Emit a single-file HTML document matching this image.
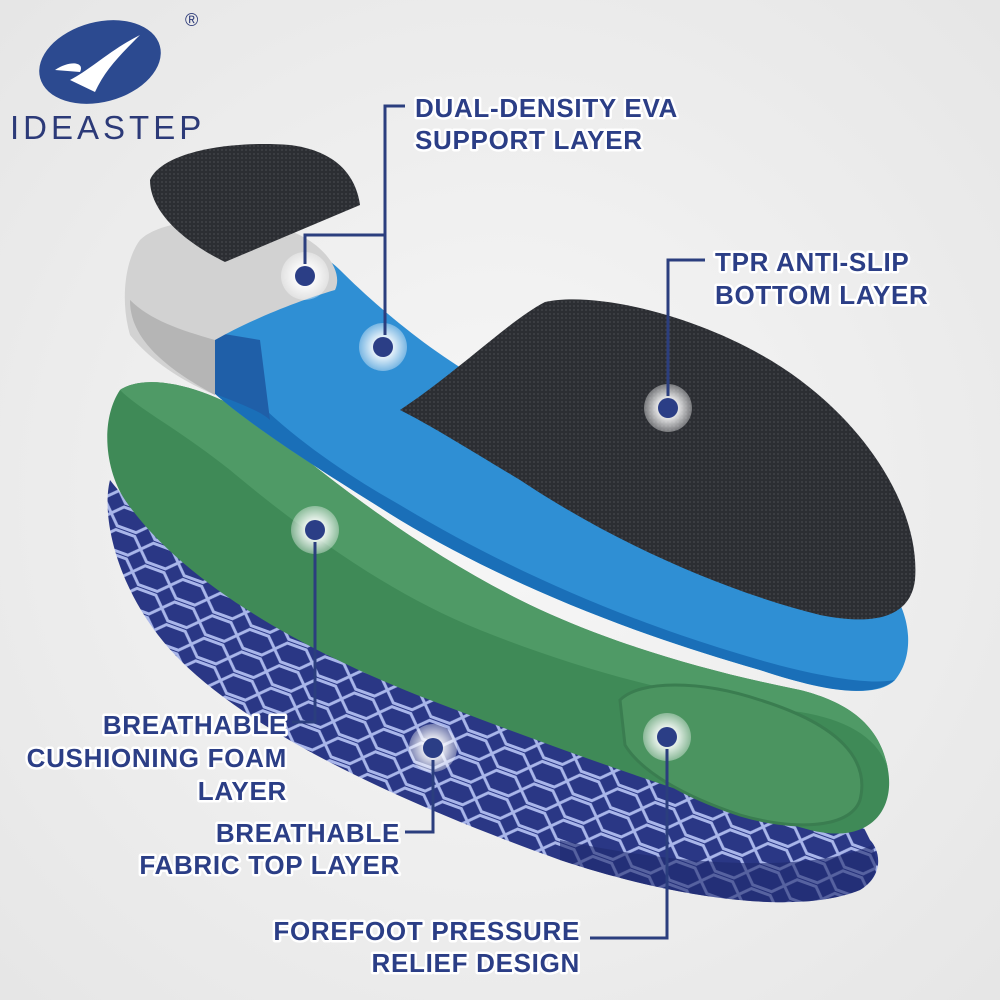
<!DOCTYPE html>
<html><head><meta charset="utf-8"><style>
html,body{margin:0;padding:0;}
body{width:1000px;height:1000px;overflow:hidden;background:#eeeeee;}
svg{display:block}
.t{font-family:"Liberation Sans",sans-serif;font-weight:900;font-size:26px;fill:#2b3e86;stroke:#fff;stroke-width:5px;paint-order:stroke;stroke-linejoin:round;letter-spacing:0.7px}
.l{stroke:#2b3e7e;stroke-width:3;fill:none}
</style></head><body>
<svg width="1000" height="1000" viewBox="0 0 1000 1000">
<defs>
<radialGradient id="bg" cx="0.5" cy="0.5" r="0.7"><stop offset="0" stop-color="#f7f7f7"/><stop offset="1" stop-color="#e6e6e6"/></radialGradient>
<pattern id="hex" width="40" height="24" patternUnits="userSpaceOnUse" patternTransform="rotate(20)">
<rect width="40" height="24" fill="#2a3785"/>
<path d="M0 12 L10 2 L30 2 L40 12 L30 22 L10 22 Z" fill="none" stroke="#a9b6ea" stroke-width="3"/>
</pattern>
<pattern id="mesh" width="4" height="4" patternUnits="userSpaceOnUse"><rect width="4" height="4" fill="#2c2e33"/><circle cx="2" cy="2" r="0.9" fill="#45474d"/></pattern>
<radialGradient id="dot"><stop offset="0.45" stop-color="#fff" stop-opacity="0.85"/><stop offset="1" stop-color="#fff" stop-opacity="0.35"/></radialGradient>
</defs>
<rect width="1000" height="1000" fill="url(#bg)"/>

<path d="M110 480 C100 520 120 600 180 660 C260 740 420 810 560 860 C680 900 800 915 860 890 C885 875 880 850 870 840 L860 820 C700 790 500 740 330 640 C220 580 140 520 110 480 Z" fill="url(#hex)"/>
<path d="M560 860 C680 900 800 915 860 890 C880 878 878 860 872 845 C820 870 700 870 560 840 Z" fill="#1f2a6e" opacity="0.6"/>

<path d="M120 390 C100 420 105 470 125 500 C180 580 300 650 430 700 C560 750 700 800 810 830 C870 845 895 810 888 770 C880 720 840 700 800 690 C700 670 600 640 520 600 C420 550 330 480 270 430 C220 390 150 370 120 390 Z" fill="#3f8a57"/>
<path d="M120 390 C150 370 220 390 270 430 C330 480 420 550 520 600 C600 640 700 670 800 690 C840 700 880 720 888 770 C880 740 850 720 800 712 C690 700 580 670 480 630 C380 590 290 520 230 470 C180 430 140 410 120 390 Z" fill="#4f9a66"/>
<path d="M620 700 C640 680 700 680 760 700 C840 725 870 760 860 800 C850 830 790 830 740 815 C680 795 640 770 625 745 Z" fill="#4b9460" stroke="#3a7d50" stroke-width="3"/>

<path d="M190 240 C250 230 310 240 340 270 C380 310 440 360 500 390 C600 440 760 500 860 560 C910 590 920 650 895 680 C875 700 820 690 760 670 C620 630 500 580 400 520 C320 470 240 420 200 380 C180 340 175 280 190 240 Z" fill="#2f8fd4"/>
<path d="M200 330 C240 400 320 460 400 505 C500 565 620 620 760 660 C820 677 870 685 895 680 C870 700 820 690 760 670 C620 630 500 580 400 520 C320 470 240 420 200 380 Z" fill="#1a6fb8"/>
<path d="M200 330 L205 390 C230 400 260 410 270 420 L260 340 Z" fill="#1f5fa8"/>

<path d="M140 240 C160 220 220 215 270 225 C320 235 345 270 335 290 C300 300 250 320 215 340 L215 395 C180 380 150 360 130 335 C120 300 125 260 140 240 Z" fill="#d2d2d2"/>
<path d="M130 300 C130 330 150 360 215 395 L215 340 C180 330 150 320 130 300 Z" fill="#b5b5b5"/>

<path d="M150 180 C160 155 220 140 290 145 C330 150 355 170 360 205 L225 262 C190 245 150 215 150 180 Z" fill="url(#mesh)"/>

<path d="M400 410 C460 370 510 320 545 302 C600 290 720 320 800 380 C880 440 920 520 915 580 C910 620 870 625 820 615 C720 590 610 540 520 480 C470 450 430 425 400 410 Z" fill="url(#mesh)"/>

<g>
<circle cx="305" cy="276" r="24" fill="url(#dot)"/><circle cx="305" cy="276" r="10" fill="#2b3e86"/>
<circle cx="383" cy="347" r="24" fill="url(#dot)"/><circle cx="383" cy="347" r="10" fill="#2b3e86"/>
<circle cx="668" cy="408" r="24" fill="url(#dot)"/><circle cx="668" cy="408" r="10" fill="#2b3e86"/>
<circle cx="315" cy="530" r="24" fill="url(#dot)"/><circle cx="315" cy="530" r="10" fill="#2b3e86"/>
<circle cx="433" cy="748" r="24" fill="url(#dot)"/><circle cx="433" cy="748" r="10" fill="#2b3e86"/>
<circle cx="667" cy="737" r="24" fill="url(#dot)"/><circle cx="667" cy="737" r="10" fill="#2b3e86"/>
</g>

<path class="l" d="M405 106 H385 V335 M385 235 H305 V264"/>
<path class="l" d="M705 260 H668 V396"/>
<path class="l" d="M315 542 V722 H292"/>
<path class="l" d="M433 760 V832 H405"/>
<path class="l" d="M667 749 V938 H590"/>

<text class="t" x="415" y="117">DUAL-DENSITY EVA</text>
<text class="t" x="415" y="149">SUPPORT LAYER</text>
<text class="t" x="715" y="271">TPR ANTI-SLIP</text>
<text class="t" x="715" y="304">BOTTOM LAYER</text>
<text class="t" x="287" y="734" text-anchor="end">BREATHABLE</text>
<text class="t" x="287" y="767" text-anchor="end">CUSHIONING FOAM</text>
<text class="t" x="287" y="800" text-anchor="end">LAYER</text>
<text class="t" x="400" y="842" text-anchor="end">BREATHABLE</text>
<text class="t" x="400" y="874" text-anchor="end">FABRIC TOP LAYER</text>
<text class="t" x="580" y="940" text-anchor="end">FOREFOOT PRESSURE</text>
<text class="t" x="580" y="972" text-anchor="end">RELIEF DESIGN</text>

<ellipse cx="100" cy="62" rx="62" ry="40" fill="#2c4a90" transform="rotate(-15 100 62)"/>
<path d="M70 80 C90 70 110 50 140 35 C120 55 105 70 95 92 Z" fill="#fff"/>
<path d="M55 70 C70 60 85 62 80 72 Z" fill="#fff"/>
<text x="10" y="139" style="font-family:'Liberation Sans',sans-serif;font-size:33px;fill:#2c3a78;letter-spacing:4px">IDEASTEP</text>
<text x="185" y="26" style="font-family:'Liberation Sans',sans-serif;font-size:18px;fill:#2c3a78">®</text>
</svg>
</body></html>
